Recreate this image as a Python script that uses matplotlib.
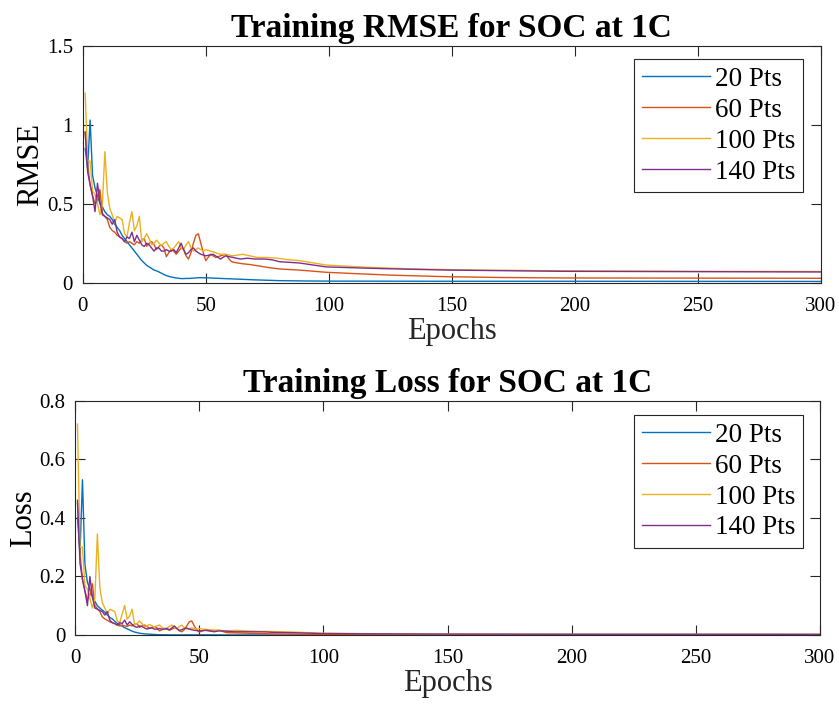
import numpy as np
import matplotlib.pyplot as plt
from matplotlib.ticker import FuncFormatter

plt.rcParams['font.family'] = ['Liberation Serif', 'DejaVu Serif']

# epochs 1..50 are logged every epoch, after that only where the curve changes
ep_dense = list(range(1, 51))

# ---- RMSE ----
rmse_20 = [0.85, 0.72, 1.03, 0.68, 0.60, 0.55, 0.50, 0.48, 0.45, 0.43,
           0.42, 0.40, 0.37, 0.35, 0.33, 0.30, 0.28, 0.26, 0.24, 0.22,
           0.20, 0.18, 0.16, 0.14, 0.125, 0.11, 0.10, 0.09, 0.08, 0.075,
           0.068, 0.06, 0.052, 0.045, 0.04, 0.036, 0.033, 0.03, 0.028, 0.026,
           0.026, 0.027, 0.027, 0.028, 0.029, 0.030, 0.032, 0.032, 0.031, 0.031]
rmse_20_ep = [52, 56, 61, 70, 80, 90, 100, 150, 200, 300]
rmse_20_tail = [0.030, 0.027, 0.024, 0.018, 0.013, 0.011, 0.010, 0.009, 0.009, 0.008]

rmse_60 = [0.95, 0.75, 0.62, 0.55, 0.50, 0.52, 0.59, 0.44, 0.42, 0.40,
           0.35, 0.33, 0.32, 0.30, 0.29, 0.28, 0.26, 0.25, 0.26, 0.25,
           0.24, 0.26, 0.25, 0.27, 0.28, 0.23, 0.25, 0.26, 0.24, 0.21,
           0.23, 0.24, 0.22, 0.165, 0.19, 0.21, 0.20, 0.18, 0.20, 0.22,
           0.21, 0.17, 0.15, 0.19, 0.25, 0.30, 0.31, 0.25, 0.19, 0.14]
rmse_60_ep = [51, 52, 53, 54, 55, 56, 57, 58, 59, 60, 61, 63, 65, 68, 72, 76,
              80, 88, 99, 110, 125, 148, 170, 196, 250, 300]
rmse_60_tail = [0.16, 0.18, 0.17, 0.16, 0.165, 0.17, 0.175, 0.18, 0.16, 0.14,
                0.13, 0.125, 0.12, 0.115, 0.105, 0.095, 0.087, 0.080, 0.066,
                0.058, 0.048, 0.038, 0.033, 0.030, 0.029, 0.028]

rmse_100 = [1.20, 0.77, 0.77, 0.58, 0.56, 0.50, 0.43, 0.50, 0.83, 0.57,
            0.47, 0.43, 0.38, 0.42, 0.41, 0.40, 0.31, 0.29, 0.38, 0.45,
            0.33, 0.36, 0.42, 0.26, 0.28, 0.31, 0.28, 0.24, 0.25, 0.27,
            0.25, 0.235, 0.25, 0.26, 0.23, 0.21, 0.22, 0.24, 0.26, 0.22,
            0.21, 0.24, 0.26, 0.22, 0.20, 0.21, 0.22, 0.21, 0.20, 0.21]
rmse_100_ep = [52, 54, 56, 58, 61, 63, 65, 68, 71, 75, 79, 84, 88, 99, 115,
               134, 160, 200, 250, 300]
rmse_100_tail = [0.20, 0.19, 0.18, 0.18, 0.17, 0.175, 0.18, 0.17, 0.16, 0.16,
                 0.155, 0.145, 0.14, 0.112, 0.098, 0.087, 0.080, 0.075, 0.072, 0.071]

rmse_140 = [0.955, 0.70, 0.62, 0.55, 0.45, 0.63, 0.51, 0.43, 0.42, 0.41,
            0.40, 0.37, 0.40, 0.32, 0.29, 0.28, 0.26, 0.29, 0.28, 0.32,
            0.26, 0.30, 0.27, 0.24, 0.23, 0.25, 0.24, 0.22, 0.20, 0.22,
            0.22, 0.20, 0.20, 0.21, 0.20, 0.20, 0.21, 0.19, 0.22, 0.25,
            0.21, 0.18, 0.19, 0.21, 0.22, 0.20, 0.19, 0.18, 0.175, 0.17]
rmse_140_ep = [53, 56, 58, 61, 64, 67, 70, 74, 77, 80, 88, 99, 120, 148, 196, 250, 300]
rmse_140_tail = [0.18, 0.15, 0.17, 0.16, 0.15, 0.155, 0.15, 0.15, 0.145, 0.133,
                 0.125, 0.10, 0.09, 0.080, 0.072, 0.070, 0.068]

# ---- Loss ----
loss_20 = [0.40, 0.28, 0.53, 0.24, 0.18, 0.155, 0.13, 0.115, 0.10, 0.092,
           0.085, 0.078, 0.068, 0.06, 0.055, 0.047, 0.04, 0.035, 0.03, 0.025,
           0.021, 0.017, 0.013, 0.01, 0.008, 0.006, 0.005, 0.004, 0.0033, 0.0028,
           0.0023, 0.0018, 0.0014, 0.001, 0.0008, 0.0007, 0.0006, 0.0005, 0.0004, 0.0004,
           0.0003, 0.0004, 0.0004, 0.0004, 0.0004, 0.0005, 0.0005, 0.0005, 0.0005, 0.0005]
loss_20_ep = [60, 80, 100, 300]
loss_20_tail = [0.0003, 0.0001, 0.0001, 0.00005]

loss_60 = [0.45, 0.28, 0.19, 0.15, 0.12, 0.135, 0.175, 0.10, 0.09, 0.08,
           0.062, 0.055, 0.05, 0.045, 0.042, 0.039, 0.034, 0.031, 0.034, 0.031,
           0.029, 0.034, 0.031, 0.036, 0.039, 0.026, 0.031, 0.034, 0.029, 0.022,
           0.026, 0.029, 0.024, 0.014, 0.018, 0.022, 0.02, 0.016, 0.02, 0.024,
           0.022, 0.014, 0.011, 0.018, 0.031, 0.045, 0.048, 0.031, 0.018, 0.01]
loss_60_ep = [52, 55, 58, 61, 65, 72, 80, 99, 125, 150, 200, 300]
loss_60_tail = [0.016, 0.014, 0.016, 0.008, 0.007, 0.0055, 0.0038, 0.0022,
                0.0012, 0.0007, 0.00045, 0.0004]

loss_100 = [0.72, 0.30, 0.30, 0.168, 0.157, 0.125, 0.092, 0.125, 0.345, 0.162,
            0.11, 0.092, 0.072, 0.088, 0.084, 0.08, 0.048, 0.042, 0.072, 0.101,
            0.054, 0.065, 0.088, 0.034, 0.039, 0.048, 0.039, 0.029, 0.031, 0.036,
            0.031, 0.028, 0.031, 0.034, 0.026, 0.022, 0.024, 0.029, 0.034, 0.024,
            0.022, 0.029, 0.034, 0.024, 0.02, 0.022, 0.024, 0.022, 0.02, 0.022]
loss_100_ep = [54, 58, 61, 65, 71, 79, 88, 99, 115, 134, 160, 200, 300]
loss_100_tail = [0.018, 0.016, 0.014, 0.016, 0.013, 0.012, 0.01, 0.0063,
                 0.0048, 0.0038, 0.0032, 0.0028, 0.0025]

loss_140 = [0.46, 0.245, 0.19, 0.15, 0.10, 0.20, 0.13, 0.092, 0.088, 0.084,
            0.08, 0.068, 0.08, 0.051, 0.042, 0.039, 0.034, 0.042, 0.039, 0.051,
            0.034, 0.045, 0.036, 0.029, 0.026, 0.031, 0.029, 0.024, 0.02, 0.024,
            0.024, 0.02, 0.02, 0.022, 0.02, 0.02, 0.022, 0.018, 0.024, 0.031,
            0.022, 0.016, 0.018, 0.022, 0.024, 0.02, 0.018, 0.016, 0.015, 0.014]
loss_140_ep = [53, 56, 58, 61, 64, 70, 77, 80, 88, 99, 120, 148, 196, 300]
loss_140_tail = [0.016, 0.011, 0.014, 0.013, 0.011, 0.011, 0.0105, 0.0088,
                 0.0078, 0.005, 0.004, 0.0032, 0.0026, 0.0023]

labels = ['20 Pts', '60 Pts', '100 Pts', '140 Pts']
colors = ['#0072BD', '#D95319', '#EDB120', '#7E2F8E']

rmse_sets = [(rmse_20, rmse_20_ep, rmse_20_tail), (rmse_60, rmse_60_ep, rmse_60_tail),
             (rmse_100, rmse_100_ep, rmse_100_tail), (rmse_140, rmse_140_ep, rmse_140_tail)]
loss_sets = [(loss_20, loss_20_ep, loss_20_tail), (loss_60, loss_60_ep, loss_60_tail),
             (loss_100, loss_100_ep, loss_100_tail), (loss_140, loss_140_ep, loss_140_tail)]

axcol = '#262626'
fig = plt.figure(figsize=(8.39, 7.05), dpi=100)
ax1 = fig.add_axes([0.0986, 0.599, 0.8796, 0.336])
ax2 = fig.add_axes([0.0894, 0.0993, 0.888, 0.3323])


def draw(ax, sets, title, ylab, ymax, ystep, leg_anchor):
    for (dense, ep, tail), lab, c in zip(sets, labels, colors):
        x = ep_dense + ep
        y = dense + tail
        ax.plot(x, y, color=c, lw=1.0, label=lab)
    ax.set_xlim(0, 300)
    ax.set_ylim(0, ymax)
    ax.set_xticks(np.arange(0, 301, 50))
    ax.set_yticks(np.arange(0, ymax + 1e-9, ystep))
    ax.yaxis.set_major_formatter(FuncFormatter(lambda v, p: '%g' % round(v, 3)))
    ax.tick_params(direction='in', length=7, width=0.8, colors=axcol,
                   labelsize=15, top=True, right=True, labelcolor='black')
    ax.tick_params(axis='x', pad=10)
    ax.tick_params(axis='y', pad=7)
    for s in ax.spines.values():
        s.set_color(axcol)
        s.set_linewidth(0.8)
    ax.set_title(title, fontsize=24, fontweight='bold', pad=6)
    ax.set_xlabel('Epochs', fontsize=22, color=axcol, labelpad=1)
    ax.set_ylabel(ylab, fontsize=22, color='black', labelpad=1)
    leg = ax.legend(loc='upper right', bbox_to_anchor=leg_anchor, borderaxespad=0,
                    fontsize=19.5, frameon=True, fancybox=False, framealpha=1,
                    handlelength=2.5, handletextpad=0.2, labelspacing=0.22,
                    borderpad=0.28)
    leg.get_frame().set_edgecolor(axcol)
    leg.get_frame().set_linewidth(0.8)


draw(ax1, rmse_sets, 'Training RMSE for SOC at 1C', 'RMSE', 1.5, 0.5,
     (1 - 17.7 / 738, 1 - 13.3 / 237))
draw(ax2, loss_sets, 'Training Loss for SOC at 1C', 'Loss', 0.8, 0.2,
     (1 - 17 / 745, 1 - 14.3 / 234))

fig.savefig('out.png', dpi=100)
